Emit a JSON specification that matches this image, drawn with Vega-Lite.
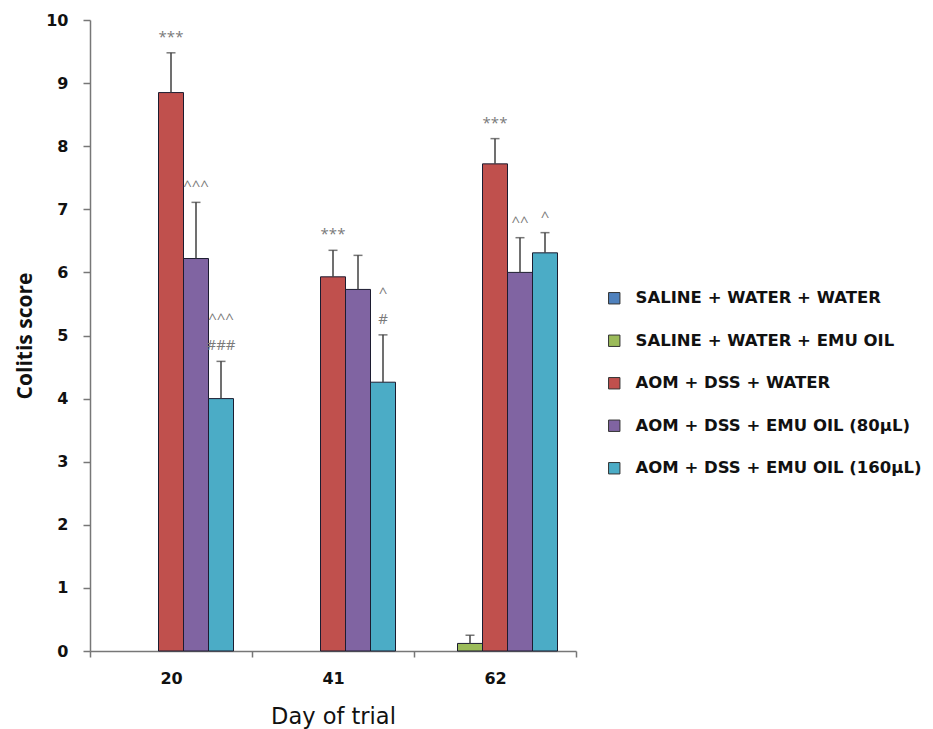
{
  "$schema": "https://vega.github.io/schema/vega-lite/v6.json",
  "width": 486,
  "height": 631,
  "autosize": {"type": "none"},
  "padding": {"left": 90, "top": 20, "right": 357, "bottom": 78},
  "background": "white",
  "config": {
    "view": {"stroke": null},
    "font": "Open Sans"
  },
  "data": {
    "values": [
      {"day": "20", "group": "AOM + DSS + WATER", "score": 8.85, "upper": 9.48, "sigLow": "***", "sigHigh": ""},
      {"day": "20", "group": "AOM + DSS + EMU OIL (80μL)", "score": 6.22, "upper": 7.11, "sigLow": "^^^", "sigHigh": ""},
      {"day": "20", "group": "AOM + DSS + EMU OIL (160μL)", "score": 4.0, "upper": 4.59, "sigLow": "###", "sigHigh": "^^^"},
      {"day": "41", "group": "AOM + DSS + WATER", "score": 5.93, "upper": 6.35, "sigLow": "***", "sigHigh": ""},
      {"day": "41", "group": "AOM + DSS + EMU OIL (80μL)", "score": 5.73, "upper": 6.27, "sigLow": "", "sigHigh": ""},
      {"day": "41", "group": "AOM + DSS + EMU OIL (160μL)", "score": 4.26, "upper": 5.01, "sigLow": "#", "sigHigh": "^"},
      {"day": "62", "group": "SALINE + WATER + EMU OIL", "score": 0.12, "upper": 0.25, "sigLow": "", "sigHigh": ""},
      {"day": "62", "group": "AOM + DSS + WATER", "score": 7.72, "upper": 8.12, "sigLow": "***", "sigHigh": ""},
      {"day": "62", "group": "AOM + DSS + EMU OIL (80μL)", "score": 6.0, "upper": 6.55, "sigLow": "^^", "sigHigh": ""},
      {"day": "62", "group": "AOM + DSS + EMU OIL (160μL)", "score": 6.31, "upper": 6.63, "sigLow": "^", "sigHigh": ""}
    ]
  },
  "encoding": {
    "x": {
      "field": "day",
      "type": "nominal",
      "sort": ["20", "41", "62"],
      "scale": {"paddingInner": 0, "paddingOuter": 0},
      "axis": {
        "title": "Day of trial",
        "labelAngle": 0,
        "labelFont": "DejaVu Sans",
        "labelFontSize": 16,
        "labelFontWeight": "bold",
        "labelColor": "#111",
        "labelPadding": 13,
        "tickBand": "extent",
        "tickSize": 6,
        "tickColor": "#777",
        "tickWidth": 1.5,
        "domainColor": "#777",
        "domainWidth": 1.5,
        "titleFont": "DejaVu Sans",
        "titleFontSize": 22.5,
        "titleFontWeight": "normal",
        "titleColor": "#111",
        "titlePadding": 19
      }
    },
    "xOffset": {
      "field": "group",
      "type": "nominal",
      "scale": {
        "domain": ["SALINE + WATER + WATER", "SALINE + WATER + EMU OIL", "AOM + DSS + WATER", "AOM + DSS + EMU OIL (80μL)", "AOM + DSS + EMU OIL (160μL)"],
        "paddingInner": 0,
        "paddingOuter": 0.74
      }
    }
  },
  "layer": [
    {
      "mark": {"type": "bar", "stroke": "#1c1c30", "strokeWidth": 1},
      "encoding": {
        "y": {
          "field": "score",
          "type": "quantitative",
          "scale": {"domain": [0, 10], "nice": false},
          "axis": {
            "title": "Colitis score",
            "values": [0, 1, 2, 3, 4, 5, 6, 7, 8, 9, 10],
            "format": "d",
            "grid": false,
            "labelFont": "DejaVu Sans",
            "labelFontSize": 16,
            "labelFontWeight": "bold",
            "labelColor": "#111",
            "labelPadding": 15,
            "tickSize": 7,
            "tickColor": "#777",
            "tickWidth": 1.5,
            "domainColor": "#777",
            "domainWidth": 1.5,
            "titleFont": "Open Sans",
            "titleFontSize": 21,
            "titleFontWeight": "bold",
            "titleColor": "#111",
            "titlePadding": 10
          }
        },
        "color": {
          "field": "group",
          "type": "nominal",
          "scale": {
            "domain": ["SALINE + WATER + WATER", "SALINE + WATER + EMU OIL", "AOM + DSS + WATER", "AOM + DSS + EMU OIL (80μL)", "AOM + DSS + EMU OIL (160μL)"],
            "range": ["#4F81BD", "#9BBB59", "#C0504D", "#8064A2", "#4BACC6"]
          },
          "legend": {
            "title": null,
            "orient": "none",
            "legendX": 516,
            "legendY": 270,
            "symbolType": "square",
            "symbolSize": 130,
            "symbolStrokeColor": "#333",
            "symbolStrokeWidth": 1,
            "labelFont": "DejaVu Sans",
            "labelFontSize": 16.5,
            "labelFontWeight": "bold",
            "labelColor": "#111",
            "labelOffset": 13,
            "rowPadding": 25.5,
            "labelLimit": 400
          }
        }
      }
    },
    {
      "mark": {"type": "rule", "color": "#404040", "strokeWidth": 1.5},
      "encoding": {
        "y": {"field": "score", "type": "quantitative"},
        "y2": {"field": "upper"}
      }
    },
    {
      "mark": {"type": "tick", "color": "#404040", "thickness": 1.5, "size": 9, "orient": "horizontal"},
      "encoding": {
        "y": {"field": "upper", "type": "quantitative"}
      }
    },
    {
      "mark": {"type": "text", "color": "#7a7a7a", "fontSize": 15, "baseline": "bottom", "dy": -8},
      "encoding": {
        "y": {"field": "upper", "type": "quantitative"},
        "text": {"field": "sigLow", "type": "nominal"}
      }
    },
    {
      "mark": {"type": "text", "color": "#7a7a7a", "fontSize": 15, "baseline": "bottom", "dy": -34},
      "encoding": {
        "y": {"field": "upper", "type": "quantitative"},
        "text": {"field": "sigHigh", "type": "nominal"}
      }
    }
  ]
}
